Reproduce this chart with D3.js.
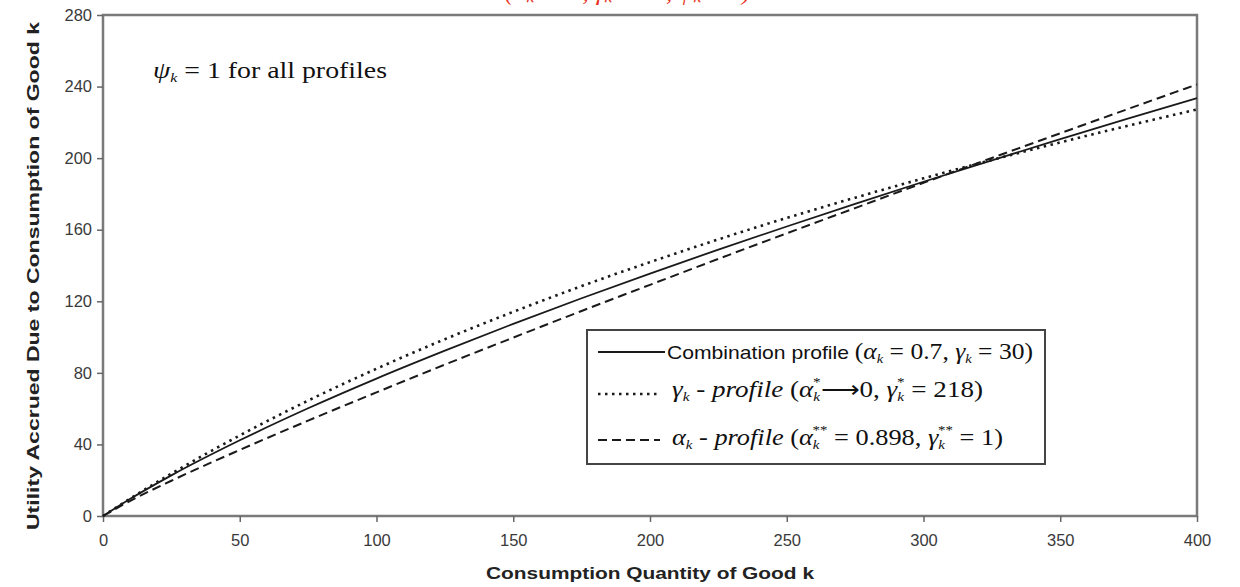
<!DOCTYPE html>
<html><head><meta charset="utf-8">
<script src="https://cdn.jsdelivr.net/npm/d3@7"></script>
<style>body{margin:0;background:#fff}</style></head>
<body><svg id="c" width="1240" height="587"></svg>
<script>
const xTicks = [0, 50, 100, 150, 200, 250, 300, 350, 400];
const yTicks = [0, 40, 80, 120, 160, 200, 240, 280];
const xValues = [0, 10, 25, 50, 75, 100, 125, 150, 175, 200, 225, 250, 275, 300, 325, 350, 375, 400];
const combination = [0, 9.6, 22.7, 42.3, 60.2, 76.8, 92.4, 107.4, 121.7, 135.5, 148.9, 161.8, 174.4, 186.8, 198.8, 210.6, 222.2, 233.5];
const gammaProfile = [0, 9.8, 23.7, 45.0, 64.5, 82.3, 98.8, 114.1, 128.5, 141.9, 154.6, 166.6, 177.9, 188.7, 199.0, 208.8, 218.2, 227.2];
const alphaProfile = [0, 8.5, 19.7, 36.9, 53.3, 69.1, 84.6, 99.7, 114.6, 129.2, 143.7, 158.0, 172.1, 186.2, 200.1, 213.9, 227.6, 241.2];

const svg = d3.select("#c");
const x = d3.scaleLinear().domain([0, 400]).range([103, 1197]);
const y = d3.scaleLinear().domain([0, 280]).range([516, 15]);
const sans = "'Liberation Sans', Arial, sans-serif";
const serif = "'Liberation Serif', 'Times New Roman', serif";

// red title text, mostly cut off at the top edge as in the reference
svg.append("text").attr("x", 505).attr("y", 0)
  .attr("textLength", 245).attr("lengthAdjust", "spacingAndGlyphs")
  .style("font-family", serif).style("font-style", "italic").style("font-size", "24px")
  .style("fill", "#e8321e").text("(αₖ → 0, γₖ → ∞, ψₖ = 1)");

// frame
svg.append("rect").attr("x", x(0)).attr("y", y(280))
  .attr("width", x(400) - x(0)).attr("height", y(0) - y(280))
  .attr("fill", "none").attr("stroke", "#7a7a7a").attr("stroke-width", 2.5);

// axes
const ya = svg.append("g").attr("transform", `translate(${x(0)},0)`)
  .call(d3.axisLeft(y).tickValues(yTicks).tickSize(6).tickPadding(5));
const xa = svg.append("g").attr("transform", `translate(0,${y(0)})`)
  .call(d3.axisBottom(x).tickValues(xTicks).tickSize(6).tickPadding(12));
[ya, xa].forEach(g => {
  g.select(".domain").remove();
  g.selectAll(".tick line").attr("stroke", "#666").attr("stroke-width", 1.5);
  g.selectAll(".tick text").style("font-family", sans).style("font-size", "16.5px").style("fill", "#3a3a3a");
});

// axis titles
svg.append("text").attr("x", 650).attr("y", 579).attr("text-anchor", "middle")
  .attr("textLength", 328).attr("lengthAdjust", "spacingAndGlyphs")
  .style("font-family", sans).style("font-weight", "bold").style("font-size", "17px").style("fill", "#222")
  .text("Consumption Quantity of Good k");
svg.append("text").attr("transform", "translate(39,276) rotate(-90)").attr("text-anchor", "middle")
  .attr("textLength", 508).attr("lengthAdjust", "spacingAndGlyphs")
  .style("font-family", sans).style("font-weight", "bold").style("font-size", "17px").style("fill", "#222")
  .text("Utility Accrued Due to Consumption of Good k");

// lines
const series = [
  {name: "combination", vals: combination, dash: null, w: 1.8},
  {name: "gamma", vals: gammaProfile, dash: "2.5,4.5", w: 2.6},
  {name: "alpha", vals: alphaProfile, dash: "9,5", w: 2}
];
const line = d3.line().x(d => x(d[0])).y(d => y(d[1])).curve(d3.curveMonotoneX);
series.forEach(s => {
  svg.append("path").datum(xValues.map((v, i) => [v, s.vals[i]]))
    .attr("d", line).attr("fill", "none").attr("stroke", "#1a1a1a")
    .attr("stroke-width", s.w).attr("stroke-dasharray", s.dash);
});

// annotation
const ann = svg.append("text").attr("x", 153).attr("y", 78)
  .attr("textLength", 234).attr("lengthAdjust", "spacingAndGlyphs")
  .style("font-family", serif).style("font-size", "23px").style("fill", "#111");
ann.append("tspan").style("font-style", "italic").text("ψ");
ann.append("tspan").attr("dy", 4).style("font-size", "13px").style("font-style", "italic").text("k");
ann.append("tspan").attr("dy", -4).text(" = 1 for all profiles");

// legend
svg.append("rect").attr("x", 587).attr("y", 330).attr("width", 458).attr("height", 134)
  .attr("fill", "#fff").attr("stroke", "#444").attr("stroke-width", 2);
const rows = [
  {ly: 352, ty: 359, dash: null, w: 1.8, x2: 665, tx: 667, len: 366},
  {ly: 394, ty: 397, dash: "2.5,4.5", w: 2.6, x2: 660, tx: 672, len: 311},
  {ly: 440, ty: 445, dash: "9,5", w: 2, x2: 660, tx: 672, len: 331}
];
rows.forEach(r => {
  svg.append("line").attr("x1", 598).attr("x2", r.x2).attr("y1", r.ly).attr("y2", r.ly)
    .attr("stroke", "#1a1a1a").attr("stroke-width", r.w).attr("stroke-dasharray", r.dash);
});
function mk(r) {
  return svg.append("text").attr("x", r.tx).attr("y", r.ty)
    .attr("textLength", r.len).attr("lengthAdjust", "spacingAndGlyphs")
    .style("font-family", serif).style("font-size", "23px").style("fill", "#111");
}
function sub(t, txt, dy) {
  t.append("tspan").attr("dy", dy).style("font-size", "13px").style("font-style", "italic").text(txt);
}
// row 1
const t1 = mk(rows[0]);
t1.append("tspan").style("font-family", sans).style("font-size", "19px").text("Combination profile ");
t1.append("tspan").text("(");
t1.append("tspan").style("font-style", "italic").text("α");
sub(t1, "k", 4);
t1.append("tspan").attr("dy", -4).text(" = 0.7, ");
t1.append("tspan").style("font-style", "italic").text("γ");
sub(t1, "k", 4);
t1.append("tspan").attr("dy", -4).text(" = 30)");
// row 2
const t2 = mk(rows[1]);
t2.append("tspan").style("font-style", "italic").text("γ");
sub(t2, "k", 4);
t2.append("tspan").attr("dy", -4).text(" - ");
t2.append("tspan").style("font-style", "italic").text("profile");
t2.append("tspan").text(" (");
t2.append("tspan").style("font-style", "italic").text("α");
sub(t2, "k", 4);
t2.append("tspan").attr("dx", -6).attr("dy", -15).style("font-size", "13px").text("*");
t2.append("tspan").attr("dy", 11).text("⟶0, ");
t2.append("tspan").style("font-style", "italic").text("γ");
sub(t2, "k", 4);
t2.append("tspan").attr("dx", -6).attr("dy", -15).style("font-size", "13px").text("*");
t2.append("tspan").attr("dy", 11).text(" = 218)");
// row 3
const t3 = mk(rows[2]);
t3.append("tspan").style("font-style", "italic").text("α");
sub(t3, "k", 4);
t3.append("tspan").attr("dy", -4).text(" - ");
t3.append("tspan").style("font-style", "italic").text("profile");
t3.append("tspan").text(" (");
t3.append("tspan").style("font-style", "italic").text("α");
sub(t3, "k", 4);
t3.append("tspan").attr("dx", -6).attr("dy", -15).style("font-size", "13px").text("**");
t3.append("tspan").attr("dy", 11).text(" = 0.898, ");
t3.append("tspan").style("font-style", "italic").text("γ");
sub(t3, "k", 4);
t3.append("tspan").attr("dx", -6).attr("dy", -15).style("font-size", "13px").text("**");
t3.append("tspan").attr("dy", 11).text(" = 1)");
</script>
</body></html>
